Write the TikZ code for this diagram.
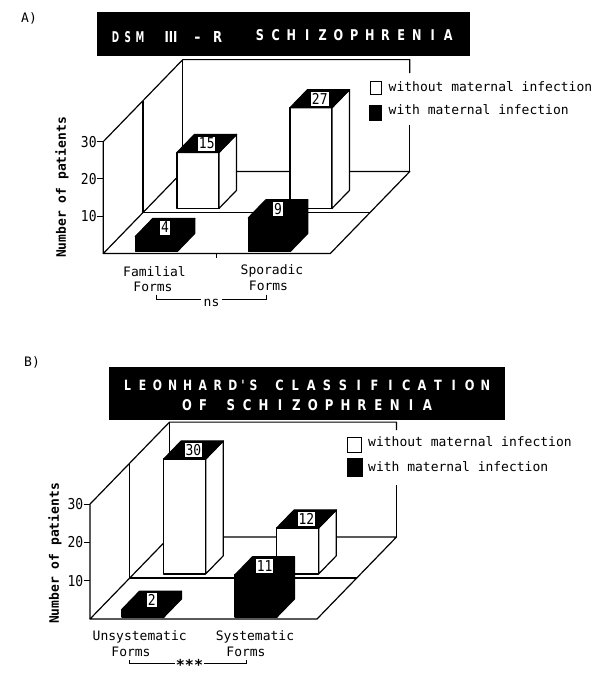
\documentclass[tikz,border=0pt]{standalone}
\usepackage{fontspec}
\usepackage{graphicx}
\newfontfamily\monofam{DejaVu Sans Mono}
\newfontfamily\ttlfam{DejaVu Sans}
\newcommand\nb[1]{\scalebox{1}[1.15]{\monofam\fontsize{13}{13}\selectfont #1}}
\newcommand\an[1]{\scalebox{1}[1.15]{\monofam\fontsize{13}{13}\selectfont #1}}
\newcommand\spreadcell[1]{\spreadi#1\relax}
\def\spreadi#1{\ifx#1\relax\else\makebox[16pt][c]{#1}\expandafter\spreadi\fi}
\newcommand\tw[3]{\resizebox{#1pt}{#2pt}{\ttlfam\bfseries\fontsize{11.5}{11.5}\selectfont #3}}
\newcommand\chartframe[2]{%
 \draw[chline] (0,0,0) -- (227,0,0) -- (227,0,1) -- (0,0,1) -- cycle;
 \draw[chline] (0,0,0.5) -- (227,0,0.5);
 \draw[chline] (0,0,0) -- (0,30,0) -- (0,30,1) -- (227,30,1) -- (227,#1,1);
 \draw[chline] (227,#2,1) -- (227,0,1);
 \draw[chline] (0,30,1) -- (0,0,1);
 \draw[chline] (0,30,0.5) -- (0,0,0.5);
}
% u, d0, h, fill, label, name
\newcommand\onebar[6]{%
 \filldraw[chline, fill=#4] (#1,0,#2) -- ({#1+42},0,#2) -- ({#1+42},#3,#2) -- (#1,#3,#2) -- cycle;
 \filldraw[chline, fill=#4] ({#1+42},0,#2) -- ({#1+42},0,{#2+0.22}) -- ({#1+42},#3,{#2+0.22}) -- ({#1+42},#3,#2) -- cycle;
 \filldraw[chline, fill=black] (#1,#3,#2) -- ({#1+42},#3,#2) -- ({#1+42},#3,{#2+0.22}) -- (#1,#3,{#2+0.22}) -- cycle;
 \node[numbox] (#6) at ({#1+21},#3,{#2+0.11}) {\nb{#5}};
}
\begin{document}
\begin{tikzpicture}[x=1pt,y=1pt,
 chline/.style={line width=1.2pt, line join=round},
 tick/.style={line width=1pt},
 numbox/.style={draw, line width=0.8pt, fill=white, inner xsep=1.3pt, inner ysep=0.8pt, minimum height=15pt, minimum width=11pt},
 txt/.style={font=\monofam\fontsize{13}{13}\selectfont, inner sep=0pt},
 ytitle/.style={font=\monofam\bfseries\fontsize{13}{13}\selectfont, inner sep=0pt, rotate=90},
 ttl/.style={text=white, inner sep=0pt, anchor=south},
 titlebox/.style={fill=black, inner sep=0pt},
 keybox/.style={draw, line width=1pt, inner sep=0pt},
 bracket/.style={line width=0.9pt},
]
\useasboundingbox (0,0) rectangle (599,-675);

% ================= Panel A =================
\node[txt, anchor=base west] (labA) at (21,-22) {A)};
\node[titlebox, minimum width=373pt, minimum height=44pt] (titA) at (283.5,-34) {};
\node[ttl] (tA1) at (127.7,-42.5) {\tw{36.7}{11}{\spreadcell{DSM}}};
\node[ttl] (tA2) at (171,-42.5) {\tw{13}{11}{III}};
\node[text=white, inner sep=0pt, anchor=base] (tA3) at (197.5,-42.5) {\ttlfam\bfseries\fontsize{15}{15}\selectfont -};
\node[ttl] (tA4) at (217.5,-42.5) {\tw{9}{11}{R}};
\node[ttl] (tA5) at (354.2,-41) {\tw{204}{11}{\spreadcell{SCHIZOPHRENIA}}};

\begin{scope}[shift={(103.3pt,-253.5pt)}, x={(1pt,0pt)}, y={(0pt,3.73pt)}, z={(79.5pt,82pt)}]
 \chartframe{26.4}{12.5}
 \foreach \t in {10,20,30} {
   \node[inner sep=0pt, anchor=east] (yA\t) at (-6.5,\t,0) {\an{\t}};
   \draw[tick] (yA\t.east) -- (0,\t,0);
 }
 \draw[tick] (113.5,0,0) -- ++(0pt,-4pt);
 \onebar{30}{0.55}{15}{white}{15}{bA15}
 \onebar{143}{0.55}{27}{white}{27}{bA27}
 \onebar{30}{0.025}{4}{black}{4}{bA4}
 \onebar{143}{0.025}{9}{black}{9}{bA9}
\end{scope}

\node[ytitle] (ytA) at (62,-187.5) {Number of patients};
\node[txt, anchor=base] (cA1) at (154.5,-276.5) {Familial};
\node[txt, anchor=base] (cA2) at (153,-291.5) {Forms};
\node[txt, anchor=base] (cA3) at (272,-274.5) {Sporadic};
\node[txt, anchor=base] (cA4) at (268.5,-290) {Forms};

\node[txt, anchor=base, inner xsep=2.5pt] (nsA) at (211.5,-306.5) {ns};
\coordinate (nsAl) at (156.7,-294.5);
\coordinate (nsAr) at (266.7,-294.5);
\coordinate (nsAy) at (0,-299.3);
\draw[bracket] (nsAl) |- (nsA.west |- nsAy);
\draw[bracket] (nsAr) |- (nsA.east |- nsAy);

\node[keybox, fill=white, minimum width=11pt, minimum height=13pt] (kA1) at (375.5,-87.5) {};
\node[keybox, fill=black, minimum width=12pt, minimum height=15pt] (kA2) at (375,-112.5) {};
\node[txt, anchor=base west] (lA1) at (388.5,-91.5) {without maternal infection};
\node[txt, anchor=base west] (lA2) at (388.5,-114.5) {with maternal infection};

% ================= Panel B =================
\node[txt, anchor=base west] (labB) at (24,-366.5) {B)};
\node[titlebox, minimum width=396pt, minimum height=53pt] (titB) at (307,-393.5) {};
\node[ttl] (tB1) at (190.5,-391) {\tw{141}{10.5}{\spreadcell{LEONHARD}\makebox[6pt][c]{'}\makebox[16pt][c]{S}}};
\node[ttl] (tB2) at (382.5,-391) {\tw{221.9}{10.5}{\spreadcell{CLASSIFICATION}}};
\node[ttl] (tB3) at (195,-411) {\tw{32}{11}{\spreadcell{OF}}};
\node[ttl] (tB4) at (329.2,-411) {\tw{213}{11}{\spreadcell{SCHIZOPHRENIA}}};

\begin{scope}[shift={(90pt,-619pt)}, x={(1pt,0pt)}, y={(0pt,3.83pt)}, z={(79.5pt,82pt)}]
 \chartframe{27.9}{13.6}
 \foreach \t in {10,20,30} {
   \node[inner sep=0pt, anchor=east] (yB\t) at (-6.5,\t,0) {\an{\t}};
   \draw[tick] (yB\t.east) -- (0,\t,0);
 }
 \onebar{30}{0.55}{30}{white}{30}{bB30}
 \onebar{143}{0.55}{12}{white}{12}{bB12}
 \onebar{30}{0.025}{2}{black}{2}{bB2}
 \onebar{143}{0.025}{11}{black}{11}{bB11}
\end{scope}

\node[ytitle] (ytB) at (55,-553.5) {Number of patients};
\node[txt, anchor=base] (cB1) at (139.7,-640) {Unsystematic};
\node[txt, anchor=base] (cB2) at (131,-656.5) {Forms};
\node[txt, anchor=base] (cB3) at (255,-640) {Systematic};
\node[txt, anchor=base] (cB4) at (246,-656.5) {Forms};

\node[txt, font=\monofam\bfseries\fontsize{15}{15}\selectfont, anchor=base, inner xsep=1pt] (stB) at (189.5,-670) {***};
\coordinate (stBl) at (129,-659.5);
\coordinate (stBr) at (246,-659.5);
\coordinate (stBy) at (0,-663.5);
\draw[bracket] (stBl) |- (stB.west |- stBy);
\draw[bracket] (stBr) |- (stB.east |- stBy);

\node[keybox, fill=white, minimum width=14pt, minimum height=15pt] (kB1) at (354.5,-444.5) {};
\node[keybox, fill=black, minimum width=15pt, minimum height=18pt] (kB2) at (355,-467.5) {};
\node[txt, anchor=base west] (lB1) at (368,-446.5) {without maternal infection};
\node[txt, anchor=base west] (lB2) at (368,-471.5) {with maternal infection};
\end{tikzpicture}
\end{document}
